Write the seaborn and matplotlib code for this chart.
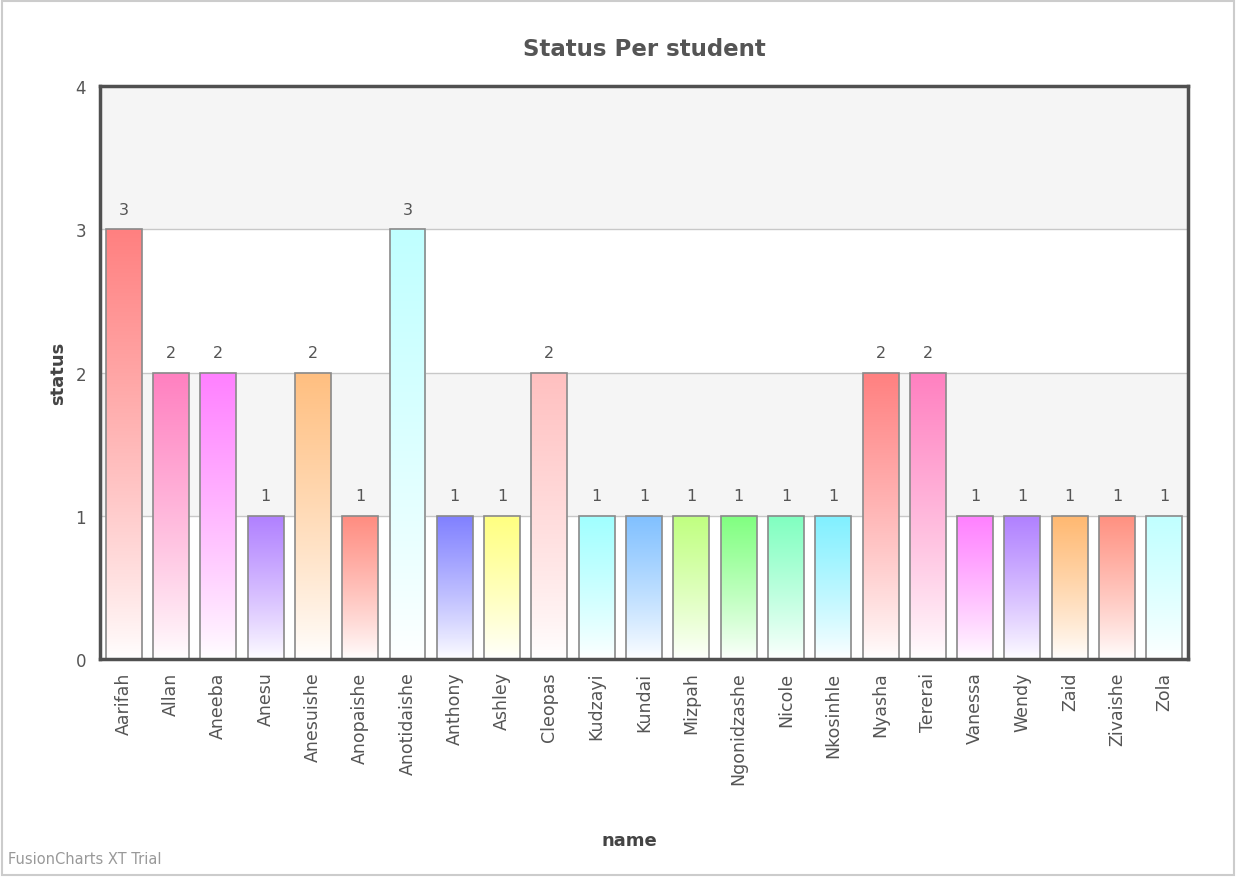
import numpy as np
import pandas as pd
import matplotlib
matplotlib.use("Agg")
import matplotlib.pyplot as plt
import matplotlib.colors as mcolors
from matplotlib.patches import Rectangle
import seaborn as sns

names = ["Aarifah", "Allan", "Aneeba", "Anesu", "Anesuishe", "Anopaishe", "Anotidaishe",
         "Anthony", "Ashley", "Cleopas", "Kudzayi", "Kundai", "Mizpah", "Ngonidzashe",
         "Nicole", "Nkosinhle", "Nyasha", "Tererai", "Vanessa", "Wendy", "Zaid",
         "Zivaishe", "Zola"]
status = [3, 2, 2, 1, 2, 1, 3, 1, 1, 2, 1, 1, 1, 1, 1, 1, 2, 2, 1, 1, 1, 1, 1]
bar_colors = ["#FF8080", "#FF80C0", "#FF80FF", "#B080FF", "#FFBF80", "#FF8C80", "#C0FFFF",
              "#8080FF", "#FFFF80", "#FFC0C0", "#A0FFFF", "#80C0FF", "#C0FF80", "#80FF80",
              "#80FFC0", "#80F0FF", "#FF8080", "#FF80C0", "#FF80FF", "#B080FF", "#FFB870",
              "#FF9080", "#C0FFFF"]
y_ticks = [0, 1, 2, 3, 4]

df = pd.DataFrame({"name": names, "status": status})

sns.set_style("white")
plt.rcParams["font.family"] = ["DejaVu Sans"]

fig = plt.figure(figsize=(12.36, 8.78), dpi=100)
ax = fig.add_axes([0.0809, 0.2483, 0.9612 - 0.0809, 0.9009 - 0.2483])

sns.barplot(data=df, x="name", y="status", hue="name", palette=bar_colors,
            legend=False, width=0.76, ax=ax, saturation=1)

bar_patches = [p for cont in ax.containers for p in cont]

# alternating bands and grid lines
for lo in range(0, 4):
    ax.axhspan(lo, lo + 1, facecolor="#F5F5F5" if lo % 2 == 1 else "white", zorder=0, lw=0)
for yv in [1, 2, 3]:
    ax.axhline(yv, color="#C8C8C8", lw=1, zorder=0.5)

# gradient fill for each bar
for patch in bar_patches:
    bb = patch.get_bbox()
    x0, x1, y0, y1 = bb.x0, bb.x1, bb.y0, bb.y1
    idx = int(round((x0 + x1) / 2))
    c = np.array(mcolors.to_rgb(bar_colors[idx]))
    t = np.linspace(0, 1, 256)[:, None]  # 0 bottom -> 1 top
    t = t ** 0.85
    rgb = (1 - t) * np.array([1, 1, 1]) + t * c
    img = rgb[:, None, :]
    im = ax.imshow(img, extent=[x0, x1, y0, y1], origin="lower", aspect="auto",
                   zorder=2, interpolation="bilinear")
    im.set_clip_path(patch)
    patch.set_facecolor("none")
    patch.set_edgecolor("#8A8A8A")
    patch.set_linewidth(1.2)
    patch.set_zorder(3)

for cont in ax.containers:
    ax.bar_label(cont, fmt="%d", padding=9, color="#555555", fontsize=11.5)

ax.set_xlim(-0.5, len(names) - 0.5)
ax.set_ylim(0, 4)
ax.set_yticks(y_ticks)
ax.set_yticklabels([str(v) for v in y_ticks], color="#555555", fontsize=12)
ax.tick_params(axis="y", length=0, pad=10)
ax.tick_params(axis="x", length=0, pad=9)
ax.set_xticks(range(len(names)))
ax.set_xticklabels(names, rotation=90, color="#555555", fontsize=12.5)

for s in ax.spines.values():
    s.set_visible(True)
    s.set_color("#505050")
    s.set_linewidth(2.5)
    s.set_zorder(5)

ax.set_xlabel("name", fontsize=13, fontweight="bold", color="#444444")
ax.set_ylabel("status", fontsize=13, fontweight="bold", color="#444444")
ax.xaxis.set_label_coords(0.487, -0.3)
ax.yaxis.set_label_coords(-0.03, 0.5)
ax.set_title("Status Per student", fontsize=16.5, fontweight="bold", color="#555555", pad=22)

fig.text(0.0065, 0.012, "FusionCharts XT Trial", color="#999999", fontsize=10.5, ha="left", va="bottom")

fig.patches.append(Rectangle((0.002, 0.002), 0.996, 0.996, transform=fig.transFigure,
                             fill=False, edgecolor="#CCCCCC", lw=1.5))

fig.savefig("out.png", dpi=100, facecolor="white")
